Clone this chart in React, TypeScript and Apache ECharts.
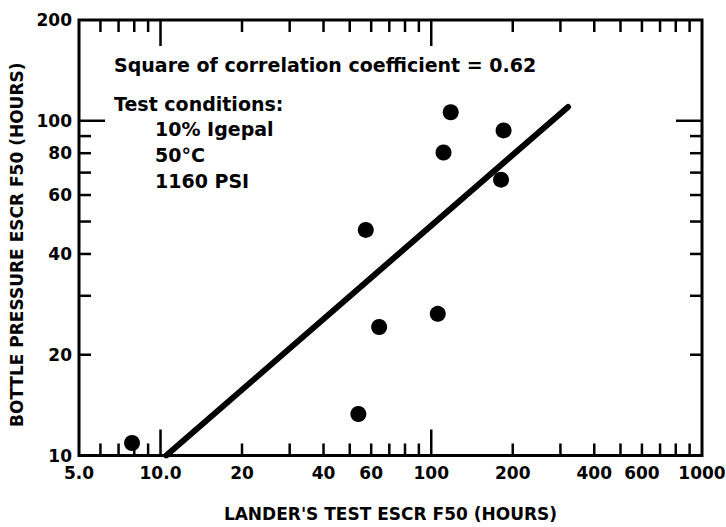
import React, { useEffect, useRef } from "react";
import * as echarts from "echarts";

// ---- data ----
const landerHours = [7.85, 118, 185, 111, 181, 57.3, 64.2, 105.7, 53.8];
const bottleHours = [10.9, 106, 93.6, 80.4, 66.7, 47.2, 24.2, 26.5, 13.3];
const fitLander = [10.5, 320];
const fitBottle = [10, 110];

const xLabelValues = [5, 10, 20, 40, 60, 100, 200, 400, 600, 1000];
const xLabelTexts = ["5.0", "10.0", "20", "40", "60", "100", "200", "400", "600", "1000"];
const yLabelValues = [10, 20, 40, 60, 80, 100, 200];
const yLabelTexts = ["10", "20", "40", "60", "80", "100", "200"];
const xMajorTicks = [10, 100];
const xMinorTicks = [6, 7, 8, 9, 20, 30, 40, 50, 60, 70, 80, 90, 200, 300, 400, 500, 600, 700, 800, 900];
const yMajorTicks = [100];
const yMinorTicks = [20, 30, 40, 50, 60, 70, 80, 90];

const annotationLines = [
  "Square of correlation coefficient = 0.62",
  "Test conditions:",
  "10% Igepal",
  "50°C",
  "1160 PSI",
];

const X_MIN = 5;
const X_MAX = 1000;
const Y_MIN = 10;
const Y_MAX = 200;

const FONT = '"DejaVu Sans", "Liberation Sans", sans-serif';

function xTickSeries(values: number[], len: number) {
  return {
    type: "custom",
    coordinateSystem: "cartesian2d",
    silent: true,
    clip: false,
    data: values.map((v) => [v, Y_MIN]),
    renderItem: (params: any, api: any) => {
      const v = api.value(0);
      const b = api.coord([v, Y_MIN]);
      const t = api.coord([v, Y_MAX]);
      const style = { stroke: "#000", lineWidth: 2.5 };
      return {
        type: "group",
        children: [
          { type: "line", shape: { x1: b[0], y1: b[1], x2: b[0], y2: b[1] - len }, style },
          { type: "line", shape: { x1: t[0], y1: t[1], x2: t[0], y2: t[1] + len }, style },
        ],
      };
    },
  };
}

function yTickSeries(values: number[], len: number) {
  return {
    type: "custom",
    coordinateSystem: "cartesian2d",
    silent: true,
    clip: false,
    data: values.map((v) => [X_MIN, v]),
    renderItem: (params: any, api: any) => {
      const v = api.value(1);
      const l = api.coord([X_MIN, v]);
      const r = api.coord([X_MAX, v]);
      const style = { stroke: "#000", lineWidth: 2.5 };
      return {
        type: "group",
        children: [
          { type: "line", shape: { x1: l[0], y1: l[1], x2: l[0] + len, y2: l[1] }, style },
          { type: "line", shape: { x1: r[0], y1: r[1], x2: r[0] - len, y2: r[1] }, style },
        ],
      };
    },
  };
}

export default function App() {
  const ref = useRef<HTMLDivElement>(null);

  useEffect(() => {
    if (!ref.current) return;
    const chart = echarts.init(ref.current, null, { renderer: "svg" });

    const option: any = {
      animation: false,
      backgroundColor: "#fff",
      textStyle: { fontFamily: FONT },
      grid: {
        left: 79,
        right: 24,
        top: 20,
        bottom: 66,
        show: true,
        borderColor: "#000",
        borderWidth: 3,
        backgroundColor: "transparent",
      },
      xAxis: {
        type: "log",
        logBase: 10,
        min: X_MIN,
        max: X_MAX,
        axisLine: { show: false },
        axisTick: { show: false },
        axisLabel: { show: false },
        splitLine: { show: false },
        name: "LANDER'S TEST ESCR F50 (HOURS)",
        nameLocation: "middle",
        nameGap: 58,
        nameTextStyle: {
          fontFamily: FONT,
          fontWeight: "bold",
          fontSize: 17,
          color: "#000",
          verticalAlign: "middle",
        },
      },
      yAxis: {
        type: "log",
        logBase: 10,
        min: Y_MIN,
        max: Y_MAX,
        axisLine: { show: false },
        axisTick: { show: false },
        axisLabel: { show: false },
        splitLine: { show: false },
        name: "BOTTLE PRESSURE ESCR F50 (HOURS)",
        nameLocation: "middle",
        nameGap: 62,
        nameTextStyle: {
          fontFamily: FONT,
          fontWeight: "bold",
          fontSize: 17,
          color: "#000",
          verticalAlign: "middle",
          padding: [0, 14, 0, 0],
        },
      },
      graphic: annotationLines.map((t, i) => ({
        type: "text",
        left: i < 2 ? 114 : 155,
        top: [55, 94, 119, 145, 171][i],
        style: {
          text: t,
          font: `bold 19px ${FONT}`,
          fill: "#000",
        },
      })),
      series: [
        xTickSeries(xMajorTicks, 26),
        xTickSeries(xMinorTicks, 12),
        yTickSeries(yMajorTicks, 26),
        yTickSeries(yMinorTicks, 12),
        {
          type: "custom",
          coordinateSystem: "cartesian2d",
          silent: true,
          clip: false,
          data: xLabelValues.map((v) => [v, Y_MIN]),
          renderItem: (params: any, api: any) => {
            const p = api.coord([api.value(0), Y_MIN]);
            return {
              type: "text",
              x: p[0],
              y: p[1] + 17,
              style: {
                text: xLabelTexts[params.dataIndex],
                font: `bold 17px ${FONT}`,
                fill: "#000",
                align: "center",
                verticalAlign: "middle",
              },
            };
          },
        },
        {
          type: "custom",
          coordinateSystem: "cartesian2d",
          silent: true,
          clip: false,
          data: yLabelValues.map((v) => [X_MIN, v]),
          renderItem: (params: any, api: any) => {
            const p = api.coord([X_MIN, api.value(1)]);
            return {
              type: "text",
              x: p[0] - 7,
              y: p[1],
              style: {
                text: yLabelTexts[params.dataIndex],
                font: `bold 17px ${FONT}`,
                fill: "#000",
                align: "right",
                verticalAlign: "middle",
              },
            };
          },
        },
        {
          type: "line",
          data: fitLander.map((x, i) => [x, fitBottle[i]]),
          symbol: "none",
          lineStyle: { color: "#000", width: 6, cap: "round", opacity: 1 },
          silent: true,
        },
        {
          type: "scatter",
          data: landerHours.map((x, i) => [x, bottleHours[i]]),
          symbol: "circle",
          symbolSize: 16,
          itemStyle: { color: "#000", opacity: 1 },
        },
      ],
    };

    chart.setOption(option);
    return () => chart.dispose();
  }, []);

  return (
    <div
      ref={ref}
      style={{ position: "fixed", left: 0, top: 0, width: 726, height: 527, background: "#fff" }}
    />
  );
}
